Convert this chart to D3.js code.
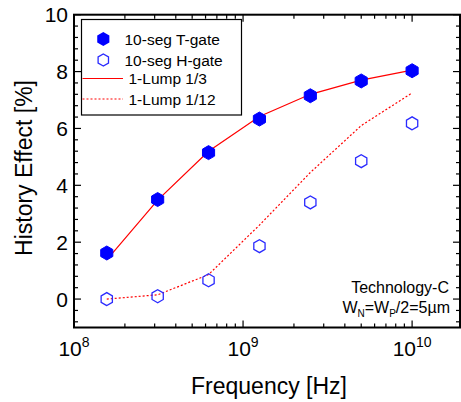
<!DOCTYPE html>
<html><head><meta charset="utf-8">
<script src="https://cdn.jsdelivr.net/npm/d3@7"></script>
<style>body{margin:0;background:#fff}svg{display:block;font-family:"Liberation Sans",Arial,sans-serif}</style>
</head><body><svg id="c" width="461" height="402"></svg>
<script>
const freqs = [1.5625e8, 3.125e8, 6.25e8, 1.25e9, 2.5e9, 5e9, 1e10];
const tGate = [1.62, 3.5, 5.15, 6.33, 7.15, 7.67, 8.03];
const hGate = [0.0, 0.1, 0.66, 1.86, 3.4, 4.85, 6.18];
const lump3 = [1.38, 3.48, 5.2, 6.42, 7.2, 7.7, 8.05];
const lump12 = [0.0, 0.15, 0.86, 2.6, 4.45, 6.1, 7.25];
const xMajor = [1e8, 1e9, 1e10];
const xMajorExp = ["8", "9", "10"];
const yMajor = [0, 2, 4, 6, 8, 10];
const legendLabels = ["10-seg T-gate", "10-seg H-gate", "1-Lump 1/3", "1-Lump 1/12"];

const L = 74, R = 460, T = 14.7, B = 327.5;
const svg = d3.select("#c");
const x = d3.scaleLog().domain([1e8, 1.92e10]).range([L, R]);
const y = d3.scaleLinear().domain([-1, 10]).range([B, T]);

const xMinor = [];
[1e8, 1e9, 1e10].forEach(d => { for (let k = 2; k <= 9; k++) { const v = d * k; if (v < 1.92e10) xMinor.push(v); } });
const yMinor = d3.range(-0.8, 10.01, 0.4).map(v => +v.toFixed(1)).filter(v => Math.abs(v / 2 - Math.round(v / 2)) > 1e-6);

const g = svg.append("g").attr("stroke", "#000").attr("stroke-width", 1.2);
[[B, -1], [T, 1]].forEach(([yy, dir]) => {
  g.selectAll(null).data(xMajor).enter().append("line")
    .attr("x1", d => x(d)).attr("x2", d => x(d)).attr("y1", yy).attr("y2", yy + dir * 7);
  g.selectAll(null).data(xMinor).enter().append("line")
    .attr("x1", d => x(d)).attr("x2", d => x(d)).attr("y1", yy).attr("y2", yy + dir * 4);
});
[[L, 1], [R, -1]].forEach(([xx, dir]) => {
  g.selectAll(null).data(yMajor).enter().append("line")
    .attr("y1", d => y(d)).attr("y2", d => y(d)).attr("x1", xx).attr("x2", xx + dir * 7);
  g.selectAll(null).data(yMinor).enter().append("line")
    .attr("y1", d => y(d)).attr("y2", d => y(d)).attr("x1", xx).attr("x2", xx + dir * 4);
});
svg.append("rect").attr("x", L).attr("y", T).attr("width", R - L).attr("height", B - T)
  .attr("fill", "none").attr("stroke", "#000").attr("stroke-width", 2);

svg.selectAll(null).data(yMajor).enter().append("text")
  .attr("x", L - 6).attr("y", d => y(d) + 7.5).attr("text-anchor", "end")
  .attr("font-size", 21).text(d => d);
const xl = svg.selectAll(null).data(xMajor).enter().append("text")
  .attr("x", d => x(d)).attr("y", 356).attr("text-anchor", "middle").attr("font-size", 21);
xl.append("tspan").text("10");
xl.append("tspan").attr("dy", -9).attr("font-size", 14).text((d, i) => xMajorExp[i]);

svg.append("text").attr("x", 269).attr("y", 394).attr("text-anchor", "middle").attr("font-size", 23).text("Frequency [Hz]");
svg.append("text").attr("transform", "translate(32,168) rotate(-90)").attr("text-anchor", "middle").attr("font-size", 23).text("History Effect [%]");

const line = d3.line().x(d => x(d[0])).y(d => y(d[1]));
svg.append("path").attr("d", line(freqs.map((f, i) => [f, lump3[i]])))
  .attr("fill", "none").attr("stroke", "#ff0000").attr("stroke-width", 1.2);
svg.append("path").attr("d", line(freqs.map((f, i) => [f, lump12[i]])))
  .attr("fill", "none").attr("stroke", "#ff0000").attr("stroke-width", 1.2).attr("stroke-dasharray", "2,2");

function hex(r) {
  const p = d3.path();
  for (let k = 0; k < 6; k++) {
    const a = Math.PI / 2 + k * Math.PI / 3;
    const px = r * Math.cos(a), py = r * Math.sin(a);
    if (k === 0) p.moveTo(px, py); else p.lineTo(px, py);
  }
  p.closePath();
  return p.toString();
}
svg.selectAll(null).data(freqs).enter().append("path")
  .attr("d", hex(7)).attr("transform", (d, i) => `translate(${x(d)},${y(tGate[i])})`)
  .attr("fill", "#0000ff").attr("stroke", "#0000ff").attr("stroke-width", 1);
svg.selectAll(null).data(freqs).enter().append("path")
  .attr("d", hex(6.5)).attr("transform", (d, i) => `translate(${x(d)},${y(hGate[i])})`)
  .attr("fill", "none").attr("stroke", "#2a2aff").attr("stroke-width", 1.3);

svg.append("rect").attr("x", 81.5).attr("y", 19.5).attr("width", 160).attr("height", 95.5)
  .attr("fill", "#fff").attr("stroke", "#000").attr("stroke-width", 1.2);
const rows = [39, 60, 78.5, 99];
svg.append("path").attr("d", hex(7)).attr("transform", `translate(103.3,${rows[0]})`).attr("fill", "#0000ff");
svg.append("path").attr("d", hex(6)).attr("transform", `translate(103.3,${rows[1]})`).attr("fill", "none").attr("stroke", "#2a2aff").attr("stroke-width", 1.3);
svg.append("line").attr("x1", 82.5).attr("x2", 123).attr("y1", rows[2]).attr("y2", rows[2]).attr("stroke", "#ff0000").attr("stroke-width", 1.2);
svg.append("line").attr("x1", 82.5).attr("x2", 123).attr("y1", rows[3]).attr("y2", rows[3]).attr("stroke", "#ff0000").attr("stroke-width", 1.2).attr("stroke-dasharray", "2,2");
svg.selectAll(null).data(legendLabels).enter().append("text")
  .attr("x", (d, i) => i < 2 ? 124.5 : 128.5).attr("y", (d, i) => rows[i] + 5.5)
  .attr("font-size", 15.5).text(d => d);

svg.append("text").attr("x", 449).attr("y", 292.5).attr("text-anchor", "end").attr("font-size", 16).text("Technology-C");
const ann = svg.append("text").attr("x", 450).attr("y", 312.5).attr("text-anchor", "end").attr("font-size", 16);
ann.append("tspan").text("W");
ann.append("tspan").attr("font-size", 10).attr("dy", 4).text("N");
ann.append("tspan").attr("dy", -4).text("=W");
ann.append("tspan").attr("font-size", 10).attr("dy", 4).text("P");
ann.append("tspan").attr("dy", -4).text("/2=5\u00b5m");
</script></body></html>
